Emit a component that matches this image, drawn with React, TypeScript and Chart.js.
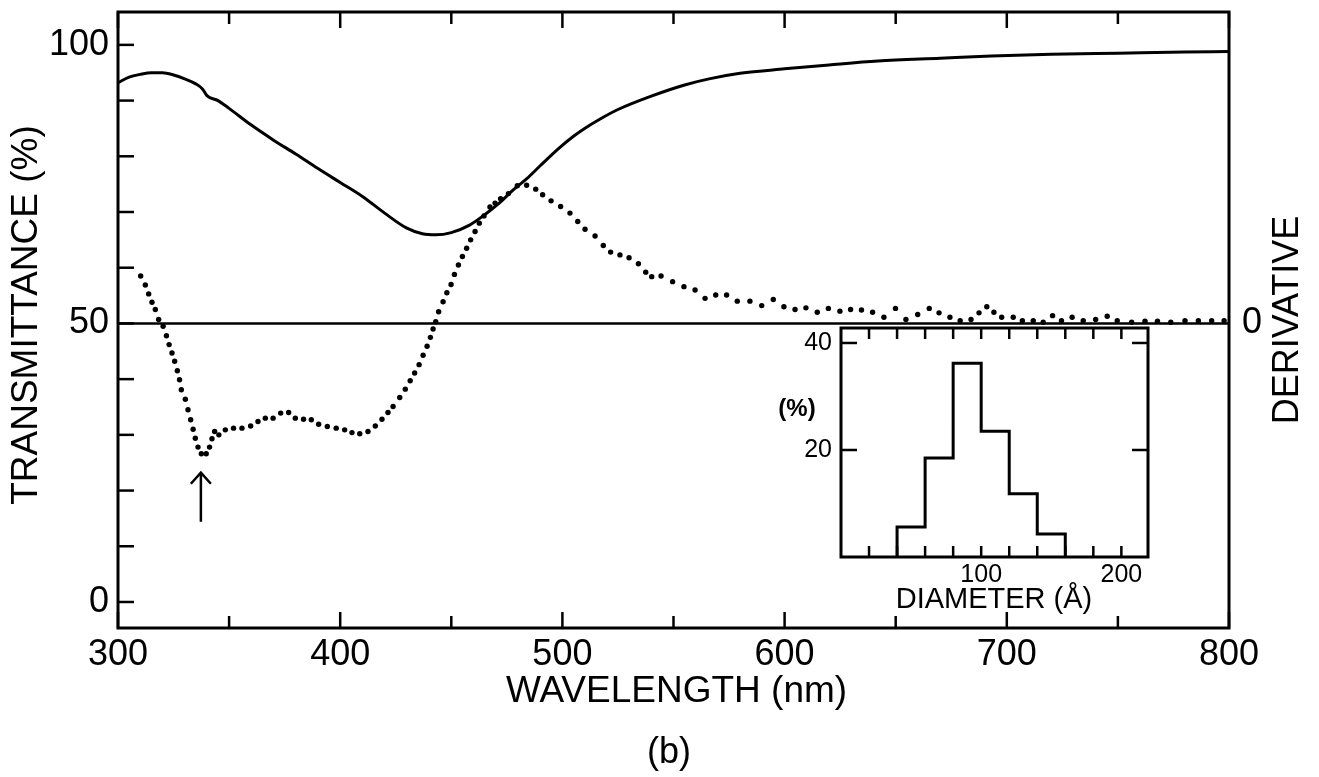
import React, { useEffect, useRef } from 'react';
import { Chart, registerables } from 'chart.js';

Chart.register(...registerables);

const FONT = '"Liberation Sans", Arial, sans-serif';

// ---------- Main chart data ----------
const transWavelength = [300, 305, 310, 315, 320, 325, 330, 335, 338, 340, 345, 350, 360, 370, 380, 390, 400, 410, 420, 430, 437, 443, 450, 458, 465, 471, 478, 484, 490, 498, 505, 510, 517, 525, 540, 555, 566, 580, 600, 620, 642, 670, 693, 720, 750, 780, 800];
const transmittance = [93.2, 94.2, 94.7, 95.0, 95.0, 94.6, 93.9, 93.0, 92.1, 90.9, 90.0, 88.6, 85.6, 82.9, 80.4, 77.8, 75.3, 72.8, 69.8, 67.1, 66.1, 65.9, 66.3, 67.6, 69.5, 71.4, 74.0, 76.0, 78.3, 81.3, 83.6, 85.0, 86.7, 88.4, 90.8, 92.8, 93.9, 94.9, 95.7, 96.4, 97.1, 97.6, 98.0, 98.3, 98.5, 98.7, 98.8];

const derivWavelength = [310.2, 312.3, 313.8, 315.3, 316.8, 318.3, 320.3, 321.8, 323.0, 324.3, 325.5, 326.7, 327.7, 328.5, 330.3, 331.5, 332.7, 333.8, 334.8, 336.0, 337.5, 339.7, 341.2, 342.3, 343.5, 345.4, 348.3, 352.0, 355.8, 359.7, 363.0, 366.3, 369.8, 373.2, 376.8, 379.8, 383.5, 387.0, 390.3, 394.2, 398.2, 402.0, 405.3, 408.8, 412.5, 415.8, 418.8, 421.5, 423.8, 426.8, 429.3, 431.5, 433.5, 435.5, 437.3, 439.1, 440.6, 441.8, 443.0, 444.3, 446.3, 448.0, 449.9, 451.4, 453.2, 455.0, 456.9, 458.7, 460.7, 462.6, 464.7, 467.4, 469.7, 472.2, 475.7, 479.7, 483.9, 488.0, 491.1, 494.9, 499.2, 503.4, 506.9, 510.2, 514.7, 518.4, 521.7, 525.9, 530.0, 534.2, 537.5, 540.2, 544.4, 549.6, 554.7, 559.7, 564.2, 569.0, 573.9, 578.7, 584.4, 589.7, 594.9, 599.7, 604.7, 609.6, 614.7, 619.7, 624.9, 629.7, 634.6, 639.6, 644.7, 649.9, 654.6, 659.9, 665.1, 669.5, 674.4, 679.0, 683.9, 687.5, 691.0, 694.2, 697.7, 702.9, 707.0, 711.9, 716.4, 720.6, 724.6, 729.4, 734.4, 740.0, 745.2, 749.7, 756.2, 762.2, 767.8, 773.8, 780.2, 786.2, 792.2, 797.8];
const derivative = [8.5, 6.9, 5.3, 3.8, 2.5, 0.7, -0.5, -2.2, -3.8, -5.3, -6.8, -8.5, -10.1, -11.9, -13.6, -15.5, -17.3, -19.0, -20.6, -22.2, -23.4, -23.4, -22.2, -20.7, -19.4, -20.0, -19.1, -18.8, -18.8, -18.4, -17.6, -17.0, -17.0, -16.1, -16.0, -17.0, -17.2, -17.3, -18.1, -18.5, -18.8, -19.1, -19.6, -19.8, -19.4, -18.4, -17.2, -16.0, -14.9, -13.3, -11.8, -10.3, -8.9, -7.4, -5.7, -4.1, -2.5, -1.0, 0.3, 2.1, 3.9, 5.5, 7.0, 8.8, 10.5, 12.0, 13.5, 15.0, 16.5, 18.0, 19.3, 20.9, 21.6, 22.4, 23.3, 24.7, 24.8, 24.1, 23.1, 22.0, 21.0, 19.8, 18.3, 16.9, 15.7, 14.0, 12.8, 12.3, 11.8, 10.7, 9.2, 8.4, 8.5, 7.5, 6.6, 6.0, 4.5, 5.1, 5.1, 4.0, 4.0, 3.2, 4.3, 3.0, 2.5, 2.8, 2.0, 2.7, 2.2, 2.5, 2.4, 2.0, 1.1, 2.7, 0.7, 1.6, 2.7, 1.9, 1.1, 0.5, 0.7, 1.9, 3.0, 2.0, 1.1, 1.1, 0.5, 0.5, 0.2, 1.4, 0.5, 1.1, 0.5, 0.7, 1.3, 0.5, 0.2, 0.4, 0.4, 0.2, 0.5, 0.5, 0.5, 0.5];

const zeroLineWavelength = [300, 800];
const xTickValues = [300, 350, 400, 450, 500, 550, 600, 650, 700, 750, 800];
const xLabelValues = [300, 400, 500, 600, 700, 800];
const yTickValues = [0, 10, 20, 30, 40, 50, 60, 70, 80, 90, 100];
const yLabelValues = [0, 50, 100];
const derivLabelValues = [0];
const arrowWavelength = 337.3;
const arrowSpan = [14.4, 23.2];

// ---------- Inset (size distribution) data ----------
const insetBinEdges = [40, 60, 80, 100, 120, 140, 160];
const insetPercent = [5.6, 18.5, 36.2, 23.5, 11.8, 4.3];
const insetXTicks = [20, 40, 60, 80, 100, 120, 140, 160, 180, 200];
const insetXLabels = [100, 200];
const insetYTicks = [20, 40];

function line(ctx: CanvasRenderingContext2D, x1: number, y1: number, x2: number, y2: number) {
  ctx.beginPath();
  ctx.moveTo(x1, y1);
  ctx.lineTo(x2, y2);
  ctx.stroke();
}

function fixSize(w: number | null, h: number | null) {
  return (s: any) => {
    if (w !== null) s.width = w;
    if (h !== null) s.height = h;
    s.paddingTop = 0;
    s.paddingBottom = 0;
    s.paddingLeft = 0;
    s.paddingRight = 0;
  };
}

const mainDecor = {
  id: 'mainDecor',
  afterDraw(chart: any) {
    const { ctx, chartArea: a, scales } = chart;
    const x = scales.x;
    const y = scales.y;
    ctx.save();
    ctx.strokeStyle = '#000';
    ctx.lineWidth = 3;
    ctx.strokeRect(a.left, a.top, a.right - a.left, a.bottom - a.top);
    ctx.lineWidth = 2.5;
    xTickValues.forEach((v) => {
      const px = x.getPixelForValue(v);
      const len = v % 100 === 0 ? 16 : 12;
      line(ctx, px, a.bottom, px, a.bottom - len);
      line(ctx, px, a.top, px, a.top + len);
    });
    yTickValues.forEach((v) => {
      const py = y.getPixelForValue(v);
      line(ctx, a.left, py, a.left + 16, py);
    });
    // arrow
    const ax = x.getPixelForValue(arrowWavelength);
    const ay0 = y.getPixelForValue(arrowSpan[0]);
    const ay1 = y.getPixelForValue(arrowSpan[1]);
    line(ctx, ax, ay0, ax, ay1);
    ctx.beginPath();
    ctx.moveTo(ax - 10, ay1 + 11);
    ctx.lineTo(ax, ay1);
    ctx.lineTo(ax + 10, ay1 + 11);
    ctx.stroke();
    // titles
    ctx.fillStyle = '#000';
    ctx.textAlign = 'center';
    ctx.textBaseline = 'middle';
    ctx.font = `37px ${FONT}`;
    ctx.fillText('WAVELENGTH (nm)', (a.left + a.right) / 2 + 3, a.bottom + 64);
    ctx.font = `36px ${FONT}`;
    ctx.fillText('(b)', a.left + 551, a.bottom + 125);
    ctx.save();
    ctx.font = `37px ${FONT}`;
    ctx.translate(a.left - 91, (a.top + a.bottom) / 2 - 5);
    ctx.rotate(-Math.PI / 2);
    ctx.fillText('TRANSMITTANCE (%)', 0, 0);
    ctx.restore();
    ctx.save();
    ctx.font = `36px ${FONT}`;
    ctx.translate(a.right + 59, (a.top + a.bottom) / 2);
    ctx.rotate(-Math.PI / 2);
    ctx.fillText('DERIVATIVE', 0, 0);
    ctx.restore();
    ctx.restore();
  },
};

const insetDecor = {
  id: 'insetDecor',
  afterDraw(chart: any) {
    const { ctx, chartArea: a, scales } = chart;
    const x = scales.x;
    const y = scales.y;
    ctx.save();
    ctx.strokeStyle = '#000';
    ctx.lineWidth = 3;
    ctx.strokeRect(a.left, a.top, a.right - a.left, a.bottom - a.top);
    ctx.lineWidth = 2.5;
    insetXTicks.forEach((v) => {
      const px = x.getPixelForValue(v);
      line(ctx, px, a.bottom, px, a.bottom - 11);
      line(ctx, px, a.top, px, a.top + 11);
    });
    insetYTicks.forEach((v) => {
      const py = y.getPixelForValue(v);
      line(ctx, a.left, py, a.left + 16, py);
      line(ctx, a.right, py, a.right - 16, py);
    });
    ctx.fillStyle = '#000';
    ctx.textAlign = 'center';
    ctx.textBaseline = 'middle';
    ctx.font = `bold 24px ${FONT}`;
    ctx.fillText('(%)', a.left - 44, y.getPixelForValue(27.5));
    ctx.font = `29px ${FONT}`;
    ctx.fillText('DIAMETER (Å)', a.left + 153, a.bottom + 43);
    ctx.restore();
  },
};

const noGrid = { display: false, drawTicks: false };

export default function App() {
  const mainRef = useRef<HTMLCanvasElement>(null);
  const insetRef = useRef<HTMLCanvasElement>(null);

  useEffect(() => {
    document.body.style.margin = '0';
    Chart.defaults.font.family = FONT;
    Chart.defaults.color = '#000';

    const main = new Chart(mainRef.current as HTMLCanvasElement, {
      type: 'line',
      data: {
        datasets: [
          {
            label: 'Transmittance',
            data: transWavelength.map((x, i) => ({ x, y: transmittance[i] })),
            yAxisID: 'y',
            borderColor: '#000',
            borderWidth: 3,
            pointRadius: 0,
            cubicInterpolationMode: 'monotone',
            fill: false,
          },
          {
            label: 'Zero',
            data: zeroLineWavelength.map((x) => ({ x, y: 0 })),
            yAxisID: 'y2',
            borderColor: '#000',
            borderWidth: 2.5,
            pointRadius: 0,
            fill: false,
          },
          {
            label: 'Derivative',
            data: derivWavelength.map((x, i) => ({ x, y: derivative[i] })),
            yAxisID: 'y2',
            showLine: false,
            pointRadius: 2.7,
            pointBackgroundColor: '#000',
            pointBorderWidth: 0,
            borderColor: '#000',
          },
        ],
      },
      options: {
        responsive: false,
        animation: false,
        devicePixelRatio: 1,
        events: [],
        layout: { padding: { top: 12, left: 0, right: 0, bottom: 0 } },
        plugins: { legend: { display: false }, tooltip: { enabled: false }, title: { display: false } },
        scales: {
          x: {
            type: 'linear',
            position: 'bottom',
            min: 300,
            max: 800,
            grid: noGrid,
            border: { display: false },
            afterBuildTicks: (s: any) => { s.ticks = xTickValues.map((v) => ({ value: v })); },
            afterFit: fixSize(null, 149),
            ticks: {
              autoSkip: false,
              maxRotation: 0,
              padding: 5,
              color: '#000',
              font: { family: FONT, size: 36 },
              callback: (v: any) => (xLabelValues.includes(Number(v)) ? String(v) : ''),
            },
          },
          y: {
            type: 'linear',
            position: 'left',
            min: -4.67,
            max: 105.9,
            grid: noGrid,
            border: { display: false },
            afterBuildTicks: (s: any) => { s.ticks = yTickValues.map((v) => ({ value: v })); },
            afterFit: fixSize(118, null),
            ticks: {
              autoSkip: false,
              padding: 9,
              color: '#000',
              font: { family: FONT, size: 36 },
              callback: (v: any) => (yLabelValues.includes(Number(v)) ? String(v) : ''),
            },
          },
          y2: {
            type: 'linear',
            position: 'right',
            min: -54.67,
            max: 55.9,
            grid: noGrid,
            border: { display: false },
            afterBuildTicks: (s: any) => { s.ticks = derivLabelValues.map((v) => ({ value: v })); },
            afterFit: fixSize(90, null),
            ticks: {
              autoSkip: false,
              padding: 13,
              color: '#000',
              font: { family: FONT, size: 36 },
              callback: (v: any) => String(v),
            },
          },
        },
      } as any,
      plugins: [mainDecor],
    });

    const histPoints = [{ x: insetBinEdges[0], y: 0 }]
      .concat(insetPercent.map((p, i) => ({ x: insetBinEdges[i], y: p })))
      .concat([{ x: insetBinEdges[insetBinEdges.length - 1], y: 0 }]);

    const inset = new Chart(insetRef.current as HTMLCanvasElement, {
      type: 'line',
      data: {
        datasets: [
          {
            label: 'Size distribution',
            data: histPoints,
            stepped: true,
            borderColor: '#000',
            borderWidth: 3,
            pointRadius: 0,
            fill: false,
          },
        ],
      },
      options: {
        responsive: false,
        animation: false,
        devicePixelRatio: 1,
        events: [],
        layout: { padding: { top: 8, left: 0, right: 32, bottom: 0 } },
        plugins: { legend: { display: false }, tooltip: { enabled: false } },
        scales: {
          x: {
            type: 'linear',
            min: 0,
            max: 219,
            grid: noGrid,
            border: { display: false },
            afterBuildTicks: (s: any) => { s.ticks = insetXTicks.map((v) => ({ value: v })); },
            afterFit: fixSize(null, 63),
            ticks: {
              autoSkip: false,
              maxRotation: 0,
              padding: 3,
              color: '#000',
              font: { family: FONT, size: 25 },
              callback: (v: any) => (insetXLabels.includes(Number(v)) ? String(v) : ''),
            },
          },
          y: {
            type: 'linear',
            min: 0,
            max: 42.8,
            grid: noGrid,
            border: { display: false },
            afterBuildTicks: (s: any) => { s.ticks = insetYTicks.map((v) => ({ value: v })); },
            afterFit: fixSize(81, null),
            ticks: {
              autoSkip: false,
              padding: 9,
              color: '#000',
              font: { family: FONT, size: 25 },
              callback: (v: any) => String(v),
            },
          },
        },
      } as any,
      plugins: [insetDecor],
    });

    return () => {
      main.destroy();
      inset.destroy();
    };
  }, []);

  return (
    <div style={{ position: 'absolute', left: 0, top: 0, width: 1319, height: 777, background: '#fff' }}>
      <canvas ref={mainRef} width={1319} height={777} style={{ position: 'absolute', left: 0, top: 0 }} />
      <canvas ref={insetRef} width={420} height={300} style={{ position: 'absolute', left: 760, top: 320 }} />
    </div>
  );
}
